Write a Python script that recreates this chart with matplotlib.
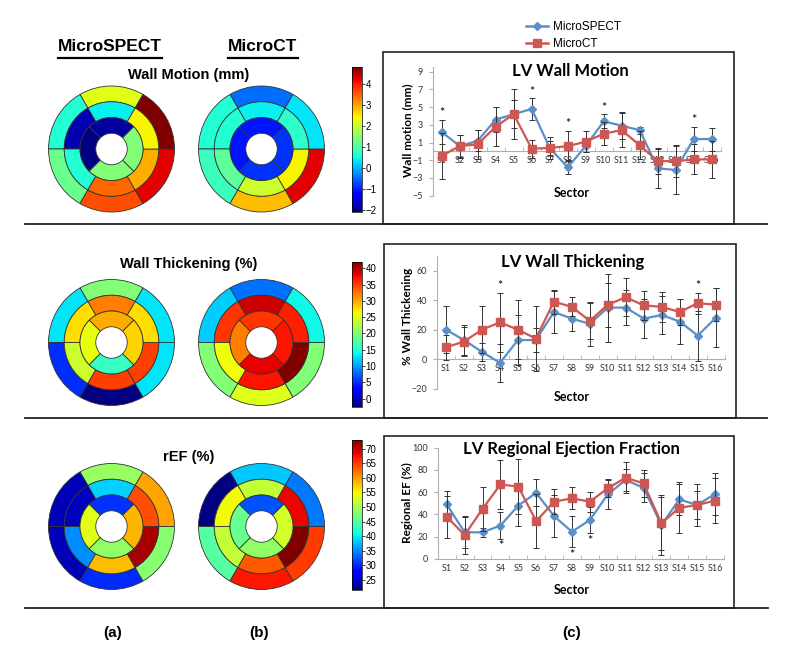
import matplotlib
matplotlib.use("Agg")
import matplotlib.pyplot as plt
import numpy as np
from matplotlib.patches import Wedge, Rectangle
from matplotlib.lines import Line2D
from matplotlib.colors import Normalize
from matplotlib.cm import ScalarMappable

# Sector names (AHA 16-segment model)
sectors = ["S%d" % i for i in range(1, 17)]

# Wall motion (mm): mean and SD per sector
wm_spect = [2.2, 0.6, 1.2, 3.6, 4.2, 4.8, 0.4, -1.8, 0.6, 3.4, 2.9, 2.4, -1.9, -2.1, 1.4, 1.4]
wm_spect_sd = [1.4, 1.2, 1.2, 1.4, 1.6, 1.2, 1.2, 0.8, 0.7, 0.8, 1.5, 0.4, 2.2, 2.7, 1.4, 1.3]
wm_ct = [-0.5, 0.6, 0.8, 2.8, 4.2, 0.3, 0.4, 0.6, 1.1, 2.0, 2.4, 0.7, -1.1, -1.1, -0.9, -0.9]
wm_ct_sd = [2.6, 1.3, 1.6, 2.2, 2.8, 1.0, 0.8, 1.7, 1.2, 1.3, 1.9, 1.6, 1.5, 1.8, 1.7, 2.1]
wm_stars = [1, 6, 8, 10, 15]

# Wall thickening (%)
wt_spect = [20, 13, 5, -2.5, 13, 13, 32, 27.5, 24, 35, 35, 27.5, 30, 25.5, 16, 28]
wt_spect_sd = [16, 10, 6, 13, 17, 8, 14, 8.5, 15, 23, 12, 13, 13, 15, 17, 20]
wt_ct = [8, 12, 20, 25, 20, 14, 39, 35.5, 26, 37, 42, 36.5, 35.5, 32, 38, 37]
wt_ct_sd = [8.5, 10, 16, 20, 20, 22, 8, 6.5, 12, 15, 13, 10, 10, 9, 7, 11]
wt_stars = [4, 15]

# Regional ejection fraction (%)
ef_spect = [49, 24, 24, 30, 48, 59.5, 38.5, 24.5, 35, 58, 71, 64, 30.5, 53.5, 48.5, 58.5]
ef_spect_sd = [12, 14, 4, 12, 18, 12, 19, 14, 12, 13, 10, 13, 27, 14, 19, 19]
ef_ct = [38, 21.5, 45, 67, 65, 34, 51.5, 54.5, 51.5, 63.5, 73, 68, 32, 46, 48.5, 52.5]
ef_ct_sd = [19, 17, 20, 22, 25, 24, 11, 10, 9, 8, 14, 12, 24, 23, 13, 20]
ef_stars = [4, 8, 9]

W, H = 800, 666
BLUE = "#5b8fc9"
RED = "#cd5753"
XL_FONT = "Lato"
AR_FONT = "Liberation Sans"

fig = plt.figure(figsize=(W / 100, H / 100), dpi=100)


def fx(x):
    return x / W


def fy(y):
    return 1 - y / H


def px_axes(x0, y0, x1, y1):
    return fig.add_axes([fx(x0), fy(y1), (x1 - x0) / W, (y1 - y0) / H])


def hline(x0, x1, y, lw=1.3):
    fig.add_artist(Line2D([fx(x0), fx(x1)], [fy(y), fy(y)], color="#222222", lw=lw))


def box(x0, y0, x1, y1):
    fig.add_artist(Rectangle((fx(x0), fy(y1)), (x1 - x0) / W, (y1 - y0) / H,
                             fill=False, ec="#222222", lw=1.2, transform=fig.transFigure))


def bullseye(cx, cy, values, norm):
    r = 63.0
    ax = px_axes(cx - 67, cy - 67, cx + 67, cy + 67)
    ax.set_xlim(-67 / r, 67 / r)
    ax.set_ylim(-67 / r, 67 / r)
    ax.axis("off")
    # (inner radius, outer radius, first sector, number, start angle)
    rings = [(0.75, 1.0, 0, 6, 60), (0.5, 0.75, 6, 6, 60), (0.25, 0.5, 12, 4, 45)]
    for r0, r1, first, n, start in rings:
        step = 360 / n
        for k in range(n):
            v = values[first + k]
            ax.add_patch(Wedge((0, 0), r1, start + k * step, start + (k + 1) * step,
                               width=r1 - r0, facecolor=plt.cm.jet(norm(v)),
                               edgecolor="#333333", lw=0.6))


def colorbar(x0, y0, x1, y1, norm, ticks):
    cax = px_axes(x0, y0, x1, y1)
    cb = fig.colorbar(ScalarMappable(norm=norm, cmap="jet"), cax=cax)
    cb.set_ticks(ticks)
    cb.outline.set_linewidth(0.5)
    cax.tick_params(labelsize=7, length=2, width=0.5, pad=1)
    for t in cax.get_yticklabels():
        t.set_fontfamily(AR_FONT)


def line_chart(axpx, ylim, yticks, spect, spect_sd, ct, ct_sd, stars, above, zero_axis):
    ax = px_axes(*axpx)
    x = np.arange(1, 17)
    ax.errorbar(x, spect, yerr=spect_sd, color=BLUE, marker="D", ms=4.2, lw=1.6,
                ecolor="#333333", elinewidth=0.7, capsize=2.2, capthick=0.7, zorder=3)
    ax.errorbar(x, ct, yerr=ct_sd, color=RED, marker="s", ms=5.2, lw=1.6,
                ecolor="#333333", elinewidth=0.7, capsize=2.2, capthick=0.7, zorder=4)
    ax.set_xlim(0.5, 16.5)
    ax.set_ylim(*ylim)
    ax.set_yticks(yticks)
    ax.set_xticks(x, sectors)
    ax.set_xticks(np.arange(0.5, 17, 1), minor=True)
    for s in ["top", "right"]:
        ax.spines[s].set_visible(False)
    for s in ["left", "bottom"]:
        ax.spines[s].set_color("#b0b0b0")
        ax.spines[s].set_linewidth(0.8)
    if zero_axis:
        ax.spines["bottom"].set_position(("data", 0))
    ax.tick_params(axis="x", which="major", length=0, pad=3.5, labelsize=6.5, labelcolor="#333333")
    ax.tick_params(axis="x", which="minor", length=3, color="#b0b0b0", direction="in")
    ax.tick_params(axis="y", length=3, color="#b0b0b0", labelsize=6.5, labelcolor="#333333", pad=4)
    for t in ax.get_xticklabels() + ax.get_yticklabels():
        t.set_fontfamily(XL_FONT)
    ax.patch.set_alpha(0)
    spect = np.array(spect)
    ct = np.array(ct)
    spect_sd = np.array(spect_sd)
    ct_sd = np.array(ct_sd)
    for s in stars:
        i = s - 1
        if above:
            y = max(spect[i] + spect_sd[i], ct[i] + ct_sd[i])
            ax.annotate("*", (s, y), xytext=(0, 0.5), textcoords="offset points",
                        ha="center", va="bottom", fontsize=9, fontfamily=XL_FONT)
        else:
            y = min(spect[i] - spect_sd[i], ct[i] - ct_sd[i])
            ax.annotate("*", (s, y), xytext=(0, -1), textcoords="offset points",
                        ha="center", va="top", fontsize=9, fontfamily=XL_FONT)
    return ax


def ftext(x, y, s, **kw):
    return fig.text(fx(x), fy(y), s, ha="center", va="center", **kw)


# Column headings (underlined)
renderer = fig.canvas.get_renderer()
for xc, name in [(110, "MicroSPECT"), (263, "MicroCT")]:
    t = ftext(xc, 46.5, name, fontsize=12.5, fontweight="bold", fontfamily=AR_FONT)
    bb = t.get_window_extent(renderer)
    fig.add_artist(Line2D([bb.x0 / W, bb.x1 / W], [fy(58), fy(58)], color="black", lw=1.6))

# Bullseye rows
rows = [
    ("Wall Motion (mm)", 75, 149, wm_spect, wm_ct, range(-2, 5), (66.7, 211.7)),
    ("Wall Thickening (%)", 264, 342.5, wt_spect, wt_ct, range(0, 41, 5), (261.7, 406.7)),
    ("rEF (%)", 457, 526.5, ef_spect, ef_ct, range(25, 71, 5), (440, 590)),
]
for title, ty, cy, spect, ct, ticks, (cb0, cb1) in rows:
    norm = Normalize(min(spect + ct), max(spect + ct))
    ftext(189, ty, title, fontsize=10.5, fontweight="bold", fontfamily=AR_FONT)
    bullseye(111.5, cy, spect, norm)
    bullseye(261.5, cy, ct, norm)
    colorbar(351.7, cb0, 361.5, cb1, norm, list(ticks))

# Frames and separators
box(383, 52, 734, 224.5)
box(384, 244, 736, 418)
box(384, 436, 734, 607.5)
hline(25, 767, 224.5)
hline(25, 767, 418)
hline(25, 768, 607.5)

# Line charts
ax1 = line_chart((432.7, 67.3, 720.7, 195.7), (-5, 9.5), range(-5, 10, 2),
                 wm_spect, wm_spect_sd, wm_ct, wm_ct_sd, wm_stars, True, True)
ax2 = line_chart((437, 256, 724.7, 388.7), (-20, 70), range(-20, 61, 20),
                 wt_spect, wt_spect_sd, wt_ct, wt_ct_sd, wt_stars, True, True)
ax3 = line_chart((437.8, 447.7, 724, 559), (0, 100), range(0, 101, 20),
                 ef_spect, ef_spect_sd, ef_ct, ef_ct_sd, ef_stars, False, False)

for (tx, ty, title), (sy, ly, yl) in zip(
        [(570, 70.7, "LV Wall Motion"), (573, 261.7, "LV Wall Thickening"),
         (571.7, 449, "LV Regional Ejection Fraction")],
        [(193, 130, "Wall motion (mm)"), (397, 316.7, "% Wall Thickening"),
         (590, 503, "Regional EF (%)")]):
    ftext(tx, ty, title, fontsize=12, fontweight="bold", fontfamily=XL_FONT)
    ftext(572, sy, "Sector", fontsize=9, fontweight="bold", fontfamily=XL_FONT)
    ftext(407.5, ly, yl, fontsize=8.5, fontweight="bold", fontfamily=XL_FONT, rotation=90)

# Legend
handles = [Line2D([], [], color=BLUE, marker="D", ms=4.2, lw=1.8),
           Line2D([], [], color=RED, marker="s", ms=5.2, lw=1.8)]
fig.legend(handles, ["MicroSPECT", "MicroCT"], loc="upper left",
           bbox_to_anchor=(fx(526), fy(21.5)), frameon=False, borderaxespad=0, borderpad=0,
           handlelength=1.9, handletextpad=0.4, labelspacing=0.35,
           prop={"family": AR_FONT, "size": 8.5})

# Panel letters
for xc, lab in [(113, "(a)"), (259, "(b)"), (572, "(c)")]:
    ftext(xc, 633, lab, fontsize=11, fontweight="bold", fontfamily=AR_FONT)

fig.savefig("out.png", dpi=100)
